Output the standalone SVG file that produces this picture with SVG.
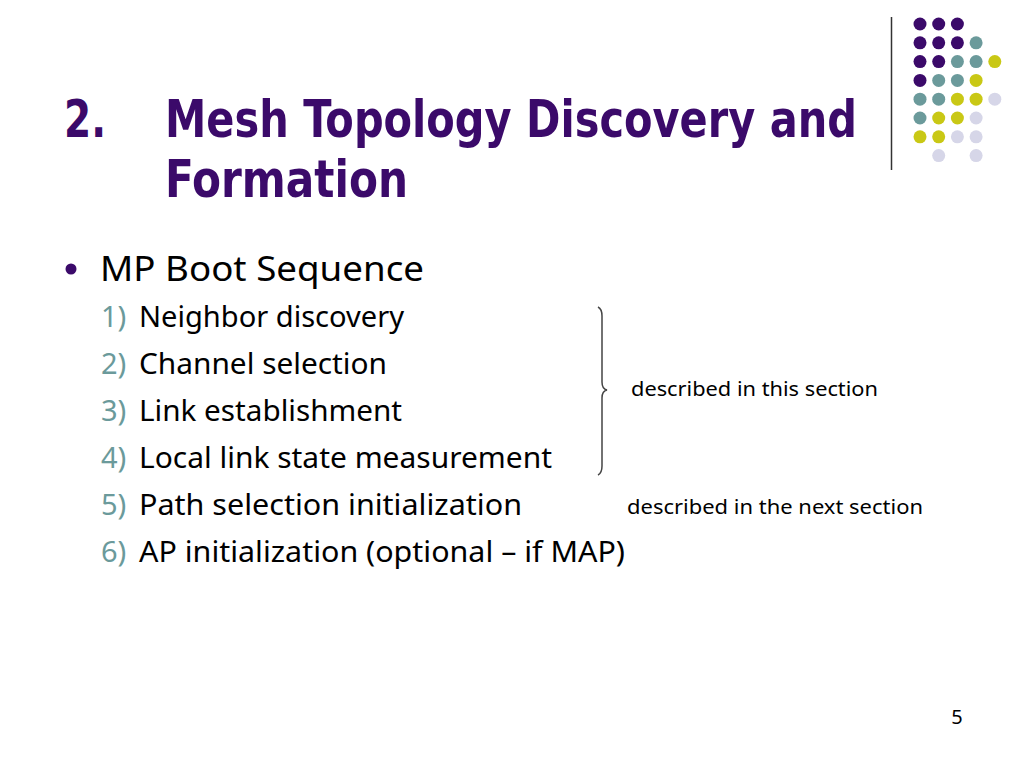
<svg xmlns="http://www.w3.org/2000/svg" width="1024" height="768" viewBox="0 0 1024 768">
<style>
.title{font-family:"DejaVu Sans Condensed","DejaVu Sans",sans-serif;font-weight:bold;font-size:51px;fill:#3b0a6a}
.body{font-family:"Noto Sans","DejaVu Sans",sans-serif;fill:#000}
.num{font-family:"Noto Sans","DejaVu Sans",sans-serif;fill:#6b9a9b;font-size:29px}
.item{font-size:29px}
.note{font-family:"Noto Sans","DejaVu Sans",sans-serif;font-size:20px;fill:#000}
.p{fill:#3b0a6a}.t{fill:#6b9a9b}.y{fill:#c9c815}.l{fill:#d6d6e8}
</style>
<rect width="1024" height="768" fill="#ffffff"/>
<g id="decoration">
<line x1="891.5" y1="17" x2="891.5" y2="170" stroke="#333" stroke-width="1.5"/>
<g id="dots">
<circle class="p" cx="920" cy="24" r="6.5"/><circle class="p" cx="938.7" cy="24" r="6.5"/><circle class="p" cx="957.4" cy="24" r="6.5"/>
<circle class="p" cx="920" cy="42.8" r="6.5"/><circle class="p" cx="938.7" cy="42.8" r="6.5"/><circle class="p" cx="957.4" cy="42.8" r="6.5"/><circle class="t" cx="976.1" cy="42.8" r="6.5"/>
<circle class="p" cx="920" cy="61.6" r="6.5"/><circle class="p" cx="938.7" cy="61.6" r="6.5"/><circle class="t" cx="957.4" cy="61.6" r="6.5"/><circle class="t" cx="976.1" cy="61.6" r="6.5"/><circle class="y" cx="994.8" cy="61.6" r="6.5"/>
<circle class="p" cx="920" cy="80.4" r="6.5"/><circle class="t" cx="938.7" cy="80.4" r="6.5"/><circle class="t" cx="957.4" cy="80.4" r="6.5"/><circle class="y" cx="976.1" cy="80.4" r="6.5"/>
<circle class="t" cx="920" cy="99.2" r="6.5"/><circle class="t" cx="938.7" cy="99.2" r="6.5"/><circle class="y" cx="957.4" cy="99.2" r="6.5"/><circle class="y" cx="976.1" cy="99.2" r="6.5"/><circle class="l" cx="994.8" cy="99.2" r="6.5"/>
<circle class="t" cx="920" cy="118" r="6.5"/><circle class="y" cx="938.7" cy="118" r="6.5"/><circle class="y" cx="957.4" cy="118" r="6.5"/><circle class="l" cx="976.1" cy="118" r="6.5"/>
<circle class="y" cx="920" cy="136.8" r="6.5"/><circle class="y" cx="938.7" cy="136.8" r="6.5"/><circle class="l" cx="957.4" cy="136.8" r="6.5"/><circle class="l" cx="976.1" cy="136.8" r="6.5"/>
<circle class="l" cx="938.7" cy="155.6" r="6.5"/><circle class="l" cx="976.1" cy="155.6" r="6.5"/>
</g>
</g>
<g id="title">
<text class="title" x="64" y="137" textLength="42" lengthAdjust="spacingAndGlyphs">2.</text>
<text class="title" x="165" y="137" textLength="692" lengthAdjust="spacingAndGlyphs">Mesh Topology Discovery and</text>
<text class="title" x="165" y="197" textLength="243" lengthAdjust="spacingAndGlyphs">Formation</text>
</g>
<g id="bullet">
<circle cx="71" cy="269" r="5.5" fill="#3b0a6a"/>
<text class="body" x="100" y="281" font-size="35" textLength="324" lengthAdjust="spacingAndGlyphs">MP Boot Sequence</text>
</g>
<g id="items">
<text class="num" x="101" y="327">1)</text><text class="body item" x="139" y="327" textLength="265" lengthAdjust="spacingAndGlyphs">Neighbor discovery</text>
<text class="num" x="101" y="374">2)</text><text class="body item" x="139" y="374" textLength="248" lengthAdjust="spacingAndGlyphs">Channel selection</text>
<text class="num" x="101" y="421">3)</text><text class="body item" x="139" y="421" textLength="263" lengthAdjust="spacingAndGlyphs">Link establishment</text>
<text class="num" x="101" y="468">4)</text><text class="body item" x="139" y="468" textLength="413" lengthAdjust="spacingAndGlyphs">Local link state measurement</text>
<text class="num" x="101" y="515">5)</text><text class="body item" x="139" y="515" textLength="383" lengthAdjust="spacingAndGlyphs">Path selection initialization</text>
<text class="num" x="101" y="562">6)</text><text class="body item" x="139" y="562" textLength="486" lengthAdjust="spacingAndGlyphs">AP initialization (optional – if MAP)</text>
</g>
<g id="brace">
<path d="M598,307 Q602,309 602,316 L602,382 Q602,389 607,390 Q602,391 602,398 L602,466 Q602,473 598,475" fill="none" stroke="#444" stroke-width="1.5"/>
</g>
<g id="notes">
<text class="note" x="631" y="396" textLength="247" lengthAdjust="spacingAndGlyphs">described in this section</text>
<text class="note" x="627" y="514" textLength="296" lengthAdjust="spacingAndGlyphs">described in the next section</text>
</g>
<text class="note" x="957" y="724" text-anchor="middle">5</text>
</svg>
